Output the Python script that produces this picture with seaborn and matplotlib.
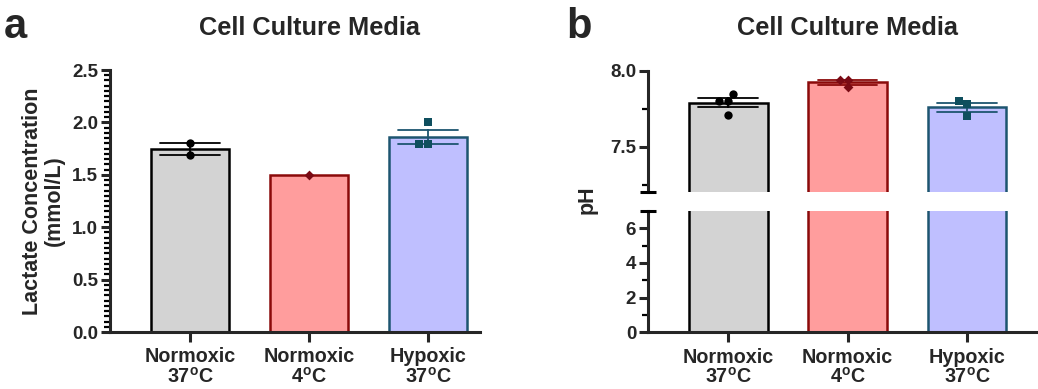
import numpy as np
import pandas as pd
import matplotlib
matplotlib.use('Agg')
import matplotlib.pyplot as plt
import matplotlib.transforms as mtransforms
import seaborn as sns

# groups and measurements
groups = ['Normoxic 37', 'Normoxic 4', 'Hypoxic 37']
tick_labels = ['Normoxic\n37$^{\\mathrm{o}}$C', 'Normoxic\n4$^{\\mathrm{o}}$C', 'Hypoxic\n37$^{\\mathrm{o}}$C']

lactate_norm37 = [1.80, 1.69]
lactate_norm4 = [1.50]
lactate_hyp37 = [2.00, 1.79, 1.79]

ph_norm37 = [7.845, 7.80, 7.80, 7.71]
ph_norm4 = [7.94, 7.94, 7.89]
ph_hyp37 = [7.78, 7.80, 7.70]

fill_colors = ['#D3D3D3', '#FF9D9D', '#BFBFFF']
edge_colors = ['#000000', '#8B0A0A', '#1D5570']
point_colors = ['#000000', '#7A0A14', '#0F4F5E']
markers = ['o', 'D', 's']
point_sizes = [6, 5, 6]

def make_df(vals):
    rows = []
    for g, v in zip(groups, vals):
        for x in v:
            rows.append((g, x))
    return pd.DataFrame(rows, columns=['group', 'value'])

df_lac = make_df([lactate_norm37, lactate_norm4, lactate_hyp37])
df_ph = make_df([ph_norm37, ph_norm4, ph_hyp37])

sns.set_style('ticks')
plt.rcParams['font.family'] = ['Liberation Sans', 'DejaVu Sans']
plt.rcParams['font.weight'] = 'bold'
plt.rcParams['mathtext.fontset'] = 'custom'
plt.rcParams['mathtext.rm'] = 'Liberation Sans:bold'
plt.rcParams['mathtext.it'] = 'Liberation Sans:bold'
plt.rcParams['mathtext.bf'] = 'Liberation Sans:bold'

LW = 2.2
TICK_FS = 13.5
XTICK_FS = 14.2


def draw_bars(ax, df, points=True):
    n_before = len(ax.lines)
    sns.barplot(data=df, x='group', y='value', hue='group', order=groups, hue_order=groups,
                palette=fill_colors, legend=False, errorbar='se', capsize=0.5, width=0.66,
                err_kws={'linewidth': 1.3}, saturation=1, ax=ax, zorder=2)
    for patch, ec in zip(ax.patches, edge_colors):
        patch.set_edgecolor(ec)
        patch.set_linewidth(1.8)
    for line in ax.lines[n_before:]:
        xm = np.nanmean(np.asarray(line.get_xdata(), dtype=float))
        if np.isnan(xm):
            continue
        idx = int(round(xm))
        line.set_color(edge_colors[idx])
        line.set_zorder(4)
    if points:
        for g, c, m, s in zip(groups, point_colors, markers, point_sizes):
            sns.swarmplot(data=df[df['group'] == g], x='group', y='value', order=groups,
                          color=c, marker=m, size=s, linewidth=0, ax=ax, zorder=5)


def style_axis(ax):
    for side in ['top', 'right']:
        ax.spines[side].set_visible(False)
    for side in ['left', 'bottom']:
        ax.spines[side].set_linewidth(LW)
    ax.tick_params(axis='y', which='major', length=6.5, width=LW, labelsize=TICK_FS, pad=2)
    ax.tick_params(axis='x', which='major', length=7, width=LW, labelsize=XTICK_FS, pad=4)
    ax.set_xlabel('')
    ax.set_ylabel('')


fig = plt.figure(figsize=(10.38, 3.89), dpi=100)

# ---- panel a ----
ax_a = fig.add_axes([0.106, 0.1465, 0.3565, 0.6735])
draw_bars(ax_a, df_lac)
style_axis(ax_a)
ax_a.set_xlim(-0.672, 2.437)
ax_a.set_ylim(0, 2.5)
ax_a.set_yticks([0, 0.5, 1.0, 1.5, 2.0, 2.5], ['0.0', '0.5', '1.0', '1.5', '2.0', '2.5'])
ax_a.set_yticks(np.arange(0.05, 2.5, 0.05), minor=True)
ax_a.set_xticks(range(3), tick_labels, linespacing=1.0)
ax_a.set_ylabel('Lactate Concentration\n(mmol/L)', fontsize=15.5, fontweight='bold',
                labelpad=5, linespacing=1.05)

# ---- panel b (broken axis) ----
ax_bt = fig.add_axes([0.6243, 0.5057, 0.3757, 0.3126])
ax_bb = fig.add_axes([0.6243, 0.1458, 0.3757, 0.3118])
draw_bars(ax_bt, df_ph)
draw_bars(ax_bb, df_ph, points=False)
style_axis(ax_bt)
style_axis(ax_bb)
for ax in (ax_bt, ax_bb):
    ax.set_xlim(-0.67, 2.594)
ax_bt.set_ylim(7.2, 8.0)
ax_bt.spines['bottom'].set_visible(False)
ax_bt.tick_params(axis='x', which='both', bottom=False, labelbottom=False)
ax_bt.set_yticks([7.5, 8.0], ['7.5', '8.0'])
ax_bt.set_yticks([7.25, 7.75], minor=True)

ax_bb.set_ylim(0, 7)
ax_bb.set_yticks([0, 2, 4, 6], ['0', '2', '4', '6'])
ax_bb.set_yticks([1, 3, 5], minor=True)
ax_bb.set_xticks(range(3), tick_labels, linespacing=1.0)

# minor ticks, set after the tick positions exist
for ax in (ax_a, ax_bt, ax_bb):
    ax.tick_params(axis='y', which='minor', left=True, length=4, width=1.6, color='#000000')

# break caps on the y-axis
ax_bt.plot([0], [7.2], marker='_', ms=11, mew=LW, color='black', clip_on=False,
           transform=ax_bt.get_yaxis_transform(), zorder=6)
ax_bb.plot([0], [7.0], marker='_', ms=11, mew=LW, color='black', clip_on=False,
           transform=ax_bb.get_yaxis_transform(), zorder=6)

fig.text(0.5655, 0.486, 'pH', rotation=90, ha='center', va='center',
         fontsize=15.5, fontweight='bold')

# titles and panel letters
for ax in (ax_a, ax_bt):
    tr = mtransforms.blended_transform_factory(ax.transData, fig.transFigure)
    fig.text(1, 0.928, 'Cell Culture Media', transform=tr, ha='center', va='center',
             fontsize=18.3, fontweight='bold')
fig.text(0.004, 0.902, 'a', fontsize=30, fontweight='bold', va='baseline')
fig.text(0.546, 0.902, 'b', fontsize=30, fontweight='bold', va='baseline')

fig.savefig('out.png', dpi=100)
